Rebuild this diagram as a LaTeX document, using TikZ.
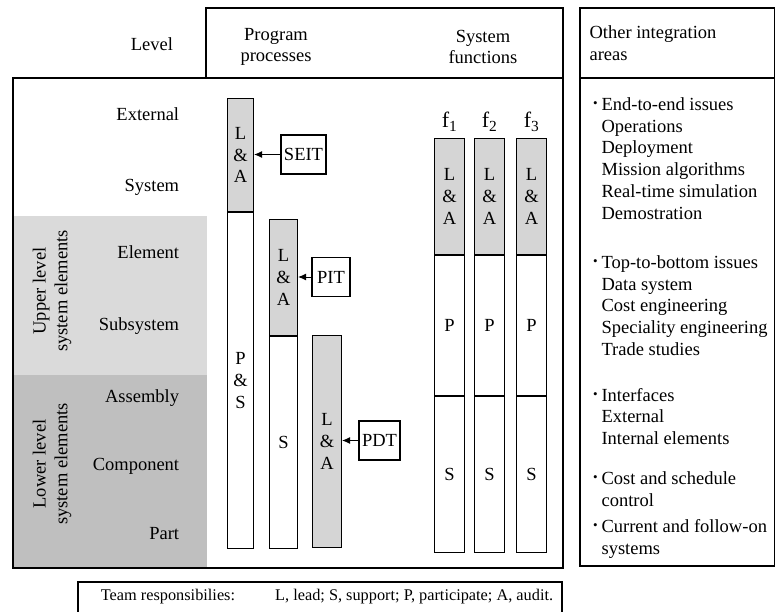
\documentclass[tikz,border=0pt]{standalone}
\usepackage{fontspec}
\setmainfont{Liberation Serif}
\usetikzlibrary{arrows.meta, positioning}
\definecolor{lightband}{RGB}{218, 218, 218}
\definecolor{darkband}{RGB}{191, 191, 191}
\definecolor{barfill}{RGB}{213, 213, 213}

\begin{document}
\begin{tikzpicture}[x=1pt, y=-1pt, line width=1.1pt,
  every node/.style={font=\fontsize{18.5}{21.7}\selectfont},
  seg/.style={draw, inner sep=0pt, anchor=north west, align=center},
  tagbox/.style={draw, fill=white, inner sep=0pt, minimum height=39pt},
  lvl/.style={anchor=base east},
  areatext/.style={anchor=north west, align=left, inner sep=0pt},
  feed/.style={line width=0.9pt, -{Latex[length=8pt, width=7pt]}}]
  \useasboundingbox (0,0) rectangle (776,612);

  % bands and frames
  \fill[lightband] (13,216) rectangle (207,375);
  \fill[darkband] (13,375) rectangle (207,568);
  \draw (206,78) rectangle (563,8);
  \draw (13,78) rectangle (563,568);
  \draw (580,8) rectangle (774.5,566);
  \draw (580,78) -- (774.5,78);

  % headers
  \node (level) at (152,44) {Level};
  \node[align=center] (progproc) at (276,47) {Program\\processes};
  \node[align=center] (sysfunc) at (483,47) {System\\functions};
  \node[areatext] (other) at (589,22.8) {\strut Other integration\\areas};

  % levels
  \node[lvl] (external) at (183,120.5) {External};
  \node[lvl] (system) at (183,191.5) {System};
  \node[lvl] (element) at (183,259) {Element};
  \node[lvl] (subsystem) at (183,330) {Subsystem};
  \node[lvl] (assembly) at (183,402.5) {Assembly};
  \node[lvl] (component) at (183,470) {Component};
  \node[lvl] (part) at (183,539) {Part};
  \node[rotate=90, align=center] (upper) at (52,291) {Upper level\\system elements};
  \node[rotate=90, align=center] (lower) at (52,464) {Lower level\\system elements};

  % program processes
  \node[seg, fill=barfill, minimum width=26pt, minimum height=113pt] (pp1a) at (227,98) {L\\\&\\A};
  \node[seg, minimum width=26pt, minimum height=336pt] (pp1b) at (pp1a.south west) {P\\\&\\S};
  \node[seg, fill=barfill, minimum width=28pt, minimum height=116pt] (pp2a) at (269,219) {L\\\&\\A};
  \node[seg, minimum width=28pt, minimum height=212pt] (pp2b) at (pp2a.south west) {S};
  \node[seg, fill=barfill, minimum width=29pt, minimum height=212pt] (pp3a) at (312,335) {L\\\&\\A};

  \node[tagbox, minimum width=45pt] (seit) at (303.5,154.5) {SEIT};
  \node[tagbox, minimum width=38pt] (pit) at (331,277) {PIT};
  \node[tagbox, minimum width=41pt] (pdt) at (379.5,440.5) {PDT};
  \draw[feed] (seit) -- (seit -| pp1a.east);
  \draw[feed] (pit) -- (pit -| pp2a.east);
  \draw[feed] (pdt) -- (pdt -| pp3a.east);

  % system functions
  \node[seg, fill=barfill, minimum width=30pt, minimum height=116pt] (fa1) at (434,138) {L\\\&\\A};
  \node[seg, minimum width=30pt, minimum height=140pt] (fp1) at (fa1.south west) {P};
  \node[seg, minimum width=30pt, minimum height=156pt] (fs1) at (fp1.south west) {S};
  \node[seg, fill=barfill, minimum width=30pt, minimum height=116pt] (fa2) at (474,138) {L\\\&\\A};
  \node[seg, minimum width=30pt, minimum height=140pt] (fp2) at (fa2.south west) {P};
  \node[seg, minimum width=30pt, minimum height=156pt] (fs2) at (fp2.south west) {S};
  \node[seg, fill=barfill, minimum width=30pt, minimum height=116pt] (fa3) at (516,138) {L\\\&\\A};
  \node[seg, minimum width=30pt, minimum height=140pt] (fp3) at (fa3.south west) {P};
  \node[seg, minimum width=30pt, minimum height=156pt] (fs3) at (fp3.south west) {S};
  \node[anchor=base, font=\fontsize{22}{24}\selectfont] (f1) at (fa1.north |- 0,128) {f\textsubscript{1}};
  \node[anchor=base, font=\fontsize{22}{24}\selectfont] (f2) at (fa2.north |- 0,128) {f\textsubscript{2}};
  \node[anchor=base, font=\fontsize{22}{24}\selectfont] (f3) at (fa3.north |- 0,128) {f\textsubscript{3}};

  % other integration areas
  \newcommand{\areabullet}{\llap{\raisebox{3pt}{\fontsize{13}{13}\selectfont\textbullet}\hspace{4pt}}}
  \node[areatext] (endtoend) at (601,94.8) {\strut\areabullet End-to-end issues\\Operations\\Deployment\\Mission algorithms\\Real-time simulation\\Demostration};
  \node[areatext] (toptobottom) at (601,252.8) {\strut\areabullet Top-to-bottom issues\\Data system\\Cost engineering\\Speciality engineering\\Trade studies};
  \node[areatext] (interfaces) at (601,385.5) {\strut\areabullet Interfaces\\External\\Internal elements};
  \node[areatext] (costsched) at (601,468.8) {\strut\areabullet Cost and schedule\\control};
  \node[areatext] (current) at (601,516.8) {\strut\areabullet Current and follow-on\\systems};

  % legend
  \draw (78,582) rectangle (562,620);
  \node[anchor=base west, font=\fontsize{16.3}{20}\selectfont] (teamresp) at (97,600) {Team responsibilies:};
  \node[anchor=base east, font=\fontsize{16.3}{20}\selectfont] (keys) at (557,600) {L, lead; S, support; P, participate; A, audit.};
\end{tikzpicture}
\end{document}
